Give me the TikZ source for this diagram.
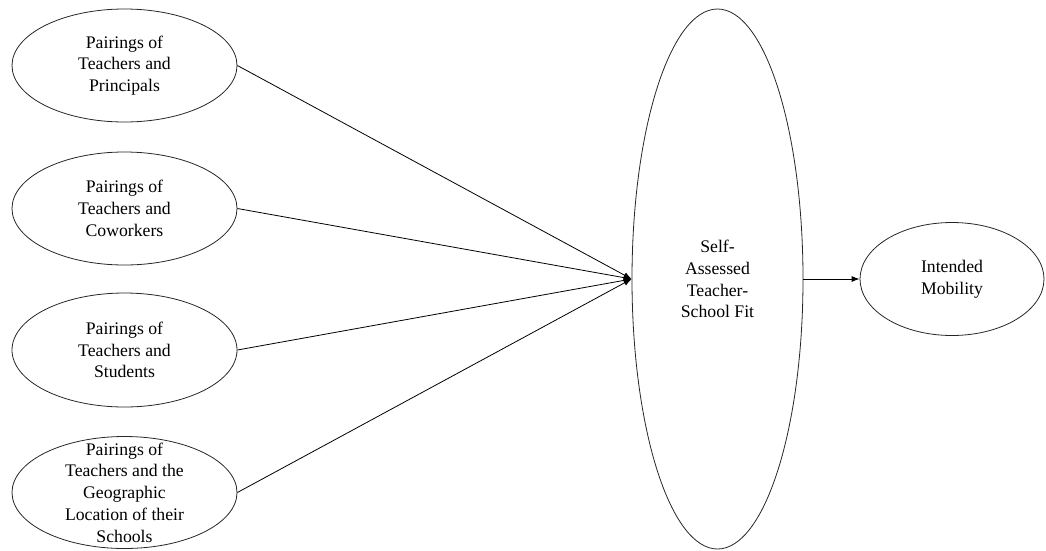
\documentclass[tikz,border=0pt]{standalone}
\usepackage{fontspec}
\setmainfont{Liberation Serif}
\newfontfamily\timesface{Liberation Serif}
\usetikzlibrary{shapes.geometric,arrows.meta}
\begin{document}
\begin{tikzpicture}[x=1pt,y=-1pt,
  oval/.style={ellipse, draw=black!85, line width=0.8pt, inner sep=0pt},
  txt/.style={align=center, font=\timesface\fontsize{17.7}{21.7}\selectfont},
  link/.style={line width=0.8pt, -{Latex[length=8pt,width=6pt]}}]
\useasboundingbox (0,0) rectangle (1046,550);

% predictor ellipses
\node[oval, minimum width=225pt, minimum height=113pt] (pr) at (124.5,65.5) {};
\node[txt] (prt) at (pr) {Pairings of\\Teachers and\\Principals};
\node[oval, minimum width=225pt, minimum height=113pt] (co) at (124.5,208.5) {};
\node[txt] (cot) at (co) {Pairings of\\Teachers and\\Coworkers};
\node[oval, minimum width=225pt, minimum height=114pt] (st) at (124.5,350) {};
\node[txt] (stt) at (st) {Pairings of\\Teachers and\\Students};
\node[oval, minimum width=225pt, minimum height=112pt] (ge) at (124.5,492.5) {};
\node[txt] (get) at (ge) {Pairings of\\Teachers and the\\Geographic\\Location of their\\Schools};

% mediator and outcome
\node[oval, minimum width=171pt, minimum height=540pt] (fit) at (717.5,279) {};
\node[txt] (fitt) at (fit) {Self-\\Assessed\\Teacher-\\School Fit};
\node[oval, minimum width=184pt, minimum height=113pt] (mob) at (952,279) {};
\node[txt] (mobt) at (mob) {Intended\\Mobility};

% paths
\draw[link] (pr.east) -- (fit.west);
\draw[link] (co.east) -- (fit.west);
\draw[link] (st.east) -- (fit.west);
\draw[link] (ge.east) -- (fit.west);
\draw[link] (fit.east) -- (mob.west);
\end{tikzpicture}
\end{document}
